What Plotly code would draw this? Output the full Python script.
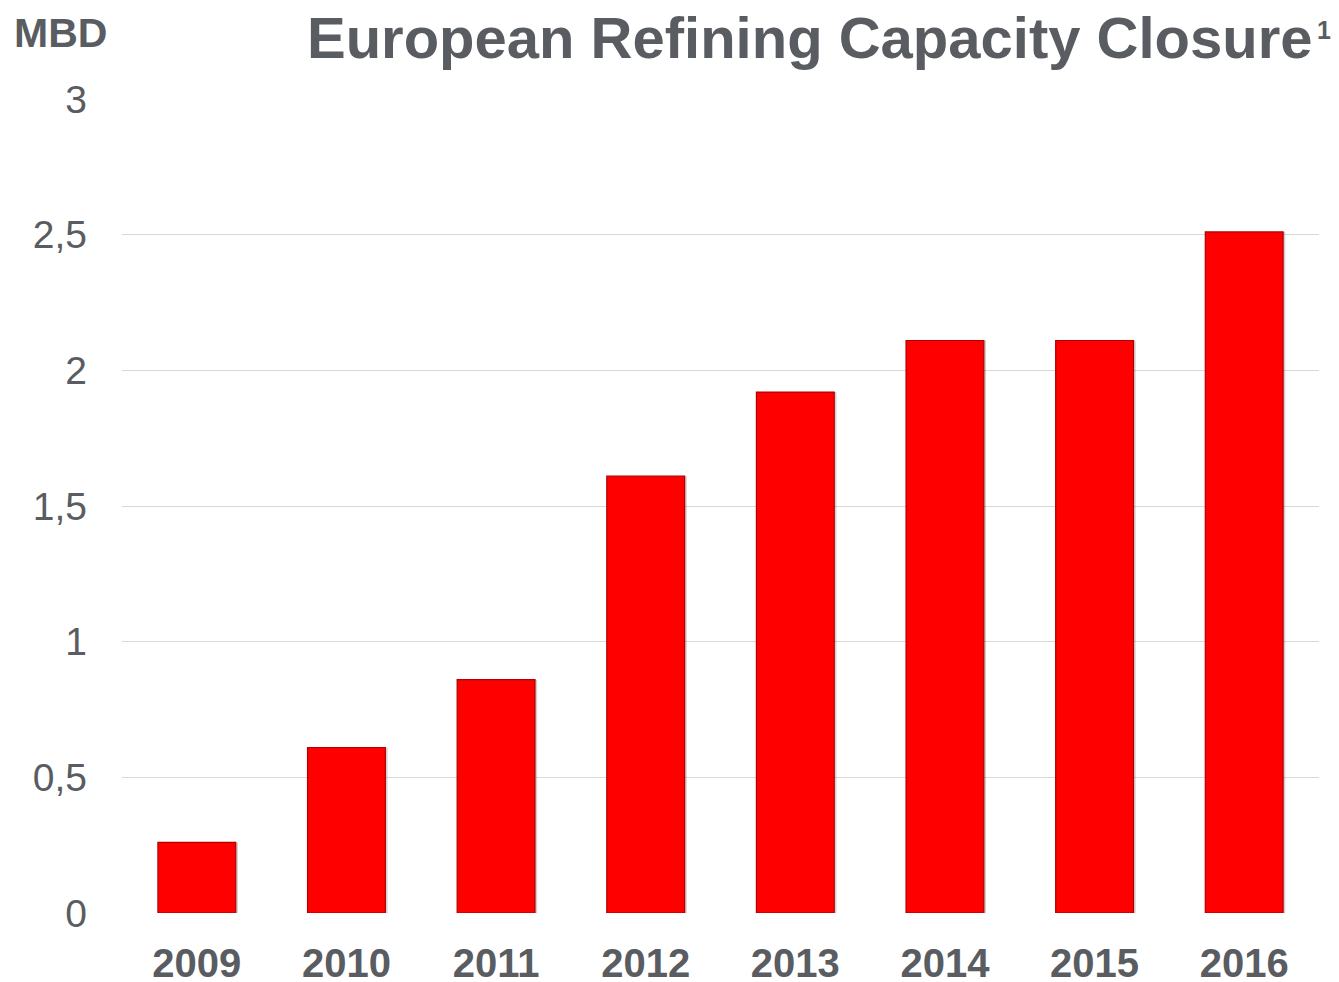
import plotly.graph_objects as go

years = ["2009", "2010", "2011", "2012", "2013", "2014", "2015", "2016"]
closure_mbd = [0.26, 0.61, 0.86, 1.61, 1.92, 2.11, 2.11, 2.51]
y_tick_vals = [0, 0.5, 1, 1.5, 2, 2.5, 3]
y_tick_text = ["0", "0,5", "1", "1,5", "2", "2,5", "3"]

FONT = "Liberation Sans, Arial, sans-serif"
TXT = "#595c61"

fig = go.Figure()
# soft drop shadow
fig.add_trace(go.Bar(
    x=years, y=closure_mbd, width=0.53, offset=-0.255,
    marker=dict(color="rgba(0,0,0,0.18)", line=dict(width=0)),
    hoverinfo="skip", showlegend=False,
))
fig.add_trace(go.Bar(
    x=years, y=closure_mbd, width=0.52, offset=-0.26,
    marker=dict(color="#ff0000", line=dict(color="#b00000", width=1.2)),
    showlegend=False,
))

fig.update_layout(
    width=1339, height=982,
    barmode="overlay",
    plot_bgcolor="white", paper_bgcolor="white",
    margin=dict(l=114, r=28, t=91, b=77),
    font=dict(family=FONT, color=TXT),
    xaxis=dict(
        showgrid=False, showline=False, zeroline=False, automargin=False,
        tickfont=dict(size=40, family=FONT, color=TXT, weight="bold"),
        ticklabelstandoff=23,
    ),
    yaxis=dict(
        range=[0, 3], tickvals=y_tick_vals, ticktext=y_tick_text,
        showgrid=True, gridcolor="#d9d9d9", gridwidth=1,
        zeroline=False, showline=False, automargin=False,
        tickfont=dict(size=39, family=FONT, color=TXT),
        ticklabelstandoff=34,
    ),
    annotations=[
        dict(text="<b>European Refining Capacity Closure</b>",
             xref="paper", yref="paper", x=0.997, y=1, xanchor="right", yanchor="middle",
             yshift=62, showarrow=False, font=dict(size=58, family=FONT, color=TXT)),
        dict(text="<b>1</b>",
             xref="paper", yref="paper", x=1.0045, y=1, xanchor="center", yanchor="middle",
             yshift=69, showarrow=False, font=dict(size=25, family=FONT, color=TXT)),
        dict(text="<b>MBD</b>", xref="paper", yref="paper", x=0, y=1,
             xanchor="left", yanchor="middle", xshift=-110, yshift=66,
             showarrow=False, font=dict(size=41, family=FONT, color=TXT)),
    ],
)

fig.write_html("out.html")
